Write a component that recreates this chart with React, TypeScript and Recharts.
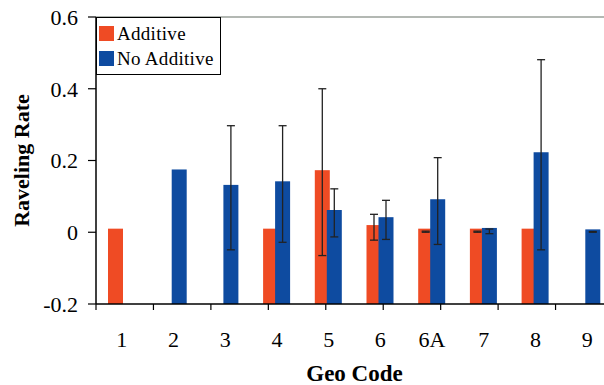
import React from 'react';
import { BarChart, Bar, XAxis, YAxis, ErrorBar, ReferenceLine, Legend } from 'recharts';

const categories = ['1', '2', '3', '4', '5', '6', '6A', '7', '8', '9'];

// rates (null = no bar)
const additive = [0.01, null, null, 0.01, 0.173, 0.02, 0.01, 0.01, 0.01, null];
const additiveLow = [null, null, null, null, -0.065, -0.022, 0.0, 0.0, null, null];
const additiveHigh = [null, null, null, null, 0.4, 0.05, 0.003, 0.003, null, null];

const noAdditive = [null, 0.175, 0.132, 0.142, 0.062, 0.042, 0.092, 0.012, 0.223, 0.008];
const noAdditiveLow = [null, null, -0.049, -0.028, -0.013, -0.02, -0.034, -0.004, -0.049, 0.0];
const noAdditiveHigh = [null, null, 0.297, 0.297, 0.121, 0.089, 0.208, 0.009, 0.481, 0.002];

const yTicks = [-0.2, 0, 0.2, 0.4, 0.6];
const edgeTicks = [...categories.map((_, i) => i), categories.length];

const ORANGE = '#EF4B24';
const BLUE = '#0E4BA0';
const FONT = 'Liberation Serif, DejaVu Serif, Noto Serif, serif';

const toErr = (v: number | null, lo: number | null, hi: number | null) =>
  v == null || lo == null || hi == null ? null : [v - lo, hi - v];

const data = categories.map((geo, i) => ({
  geo,
  additive: additive[i],
  noAdditive: noAdditive[i],
  additiveErr: toErr(additive[i], additiveLow[i], additiveHigh[i]),
  noAdditiveErr: toErr(noAdditive[i], noAdditiveLow[i], noAdditiveHigh[i]),
}));

// bars in the original grow up from the bottom of the axis (-0.2), not from 0
const FloorBar = (props: any) => {
  const { x, y, width, height, fill, background, value } = props;
  if (value == null || Number.isNaN(y)) return null;
  const bottom = background ? background.y + background.height : y + height;
  return <rect x={x} y={y} width={width} height={bottom - y} fill={fill} />;
};

const LegendBox = () => (
  <div
    style={{
      border: '1.5px solid #000',
      background: '#fff',
      padding: '3px 6px 3px 2px',
      fontFamily: FONT,
      fontSize: 19,
      lineHeight: '25px',
      letterSpacing: 0.3,
    }}
  >
    {[
      { name: 'Additive', color: ORANGE },
      { name: 'No Additive', color: BLUE },
    ].map((item) => (
      <div key={item.name} style={{ display: 'flex', alignItems: 'center' }}>
        <span style={{ width: 15, height: 15, background: item.color, marginRight: 3, display: 'inline-block' }} />
        <span>{item.name}</span>
      </div>
    ))}
  </div>
);

const YLabel = (props: any) => {
  const { viewBox } = props;
  const cx = viewBox.x + 21;
  const cy = viewBox.y + viewBox.height / 2;
  return (
    <text
      x={cx}
      y={cy}
      transform={`rotate(-90 ${cx} ${cy})`}
      textAnchor="middle"
      dominantBaseline="central"
      fontFamily={FONT}
      fontWeight="bold"
      fontSize={22}
      fill="#000"
    >
      Raveling Rate
    </text>
  );
};

const XLabel = (props: any) => {
  const { viewBox } = props;
  return (
    <text
      x={viewBox.x + viewBox.width / 2}
      y={viewBox.y + viewBox.height - 4}
      textAnchor="middle"
      fontFamily={FONT}
      fontWeight="bold"
      fontSize={23}
      fill="#000"
    >
      Geo Code
    </text>
  );
};

export default function App() {
  return (
    <div style={{ position: 'fixed', left: 0, top: 0, width: 604, height: 385, overflow: 'hidden', background: '#fff' }}>
      <BarChart
        width={620}
        height={385}
        data={data}
        margin={{ top: 17, right: 7, left: 0, bottom: 0 }}
        barSize={15}
        barGap={-3}
        barCategoryGap={0}
      >
        <XAxis
          xAxisId="axisB"
          dataKey="geo"
          axisLine={false}
          tickLine={false}
          tickSize={0}
          tickMargin={21}
          height={75}
          interval={0}
          tick={{ fill: '#000', fontSize: 22, fontFamily: FONT }}
          label={<XLabel />}
        />
        <XAxis
          xAxisId="axisA"
          type="number"
          domain={[0, categories.length]}
          ticks={edgeTicks}
          allowDataOverflow
          interval={0}
          tickFormatter={() => ''}
          tickSize={6}
          height={6}
          axisLine={{ stroke: '#000', strokeWidth: 1.5 }}
          tickLine={{ stroke: '#000', strokeWidth: 1.2 }}
        />
        <YAxis
          domain={[-0.2, 0.6]}
          ticks={yTicks}
          width={96}
          tickSize={8}
          tickMargin={10}
          axisLine={{ stroke: '#000', strokeWidth: 1.5 }}
          tickLine={{ stroke: '#000', strokeWidth: 1.2 }}
          tick={{ fill: '#000', fontSize: 22, fontFamily: FONT }}
          label={<YLabel />}
        />
        <ReferenceLine xAxisId="axisB" y={0.6} stroke="#b3b8b3" strokeWidth={2} />
        <Legend
          layout="horizontal"
          verticalAlign="middle"
          align="center"
          content={<LegendBox />}
          wrapperStyle={{ position: 'absolute', left: 96, top: 17, width: 'auto', height: 'auto' }}
        />
        <Bar xAxisId="axisB" dataKey="additive" fill={ORANGE} shape={<FloorBar />} isAnimationActive={false}>
          <ErrorBar dataKey="additiveErr" width={4} stroke="#222" strokeWidth={1.3} isAnimationActive={false} />
        </Bar>
        <Bar xAxisId="axisB" dataKey="noAdditive" fill={BLUE} shape={<FloorBar />} isAnimationActive={false}>
          <ErrorBar dataKey="noAdditiveErr" width={4} stroke="#222" strokeWidth={1.3} isAnimationActive={false} />
        </Bar>
      </BarChart>
    </div>
  );
}
